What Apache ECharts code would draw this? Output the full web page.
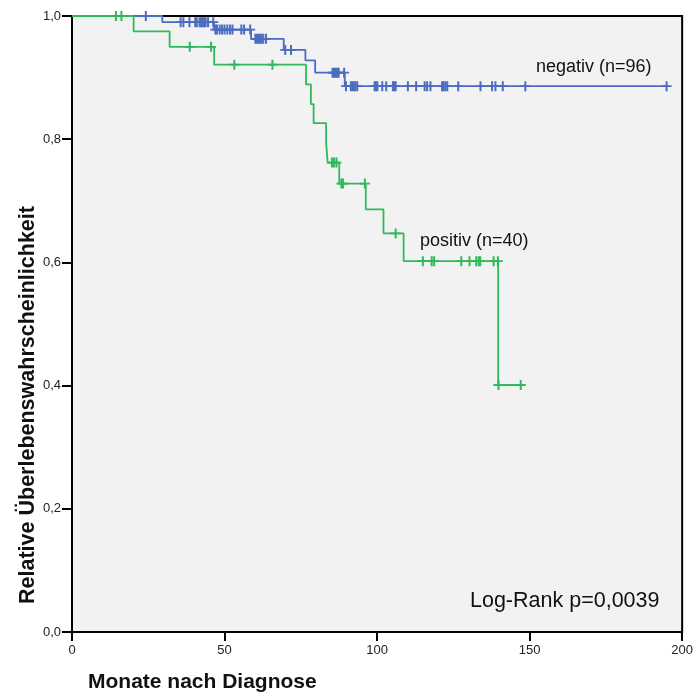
<!DOCTYPE html>
<html>
<head>
<meta charset="utf-8">
<script src="https://cdn.jsdelivr.net/npm/echarts@6/dist/echarts.min.js"></script>
<style>
  html, body { margin: 0; padding: 0; background: #ffffff; }
  #chart { width: 696px; height: 698px; }
</style>
</head>
<body>
<div id="chart"></div>
<script>
// Kaplan-Meier step curves: event times (months) and survival after each step
const posTimes = [0, 20.2, 32.0, 46.6, 76.7, 78.3, 79.2, 83.3, 83.8, 87.6, 96.3, 102.1, 108.7, 139.7, 147.1];
const posSurv  = [1.0, 0.975, 0.95, 0.921, 0.889, 0.857, 0.826, 0.794, 0.762, 0.728, 0.686, 0.647, 0.602, 0.401, 0.401];
const posCensored = [14.4, 16.2, 38.6, 45.6, 53.2, 65.7, 85.2, 85.9, 86.7, 88.3, 88.8, 96.0, 106.1,
  115.0, 117.9, 118.7, 127.6, 130.3, 132.5, 133.3, 133.8, 138.2, 139.6, 139.8, 147.1];

const negTimes = [0, 29.6, 46.6, 58.7, 69.4, 76.5, 79.7, 89.4, 194.9];
const negSurv  = [1.0, 0.990, 0.978, 0.963, 0.945, 0.928, 0.908, 0.886, 0.886];
const negCensored = [24.2,
  35.6, 36.5, 38.5, 40.4, 40.9, 41.8, 42.3, 42.8, 43.3, 43.8, 44.6, 46.3,
  47.0, 47.5, 48.4, 49.2, 50.0, 50.9, 51.8, 52.6, 55.5, 56.4, 58.4,
  60.1, 60.6, 61.1, 61.6, 62.1, 62.7, 63.6,
  69.9, 71.8,
  85.4, 85.9, 86.4, 86.9, 87.4, 89.2,
  89.8, 91.4, 91.9, 92.4, 92.9, 93.5, 99.2, 99.6, 100.1, 101.7, 103.0, 105.2, 105.6, 106.1,
  110.1, 112.8, 115.6, 116.4, 117.5, 121.3, 121.8, 122.4, 123.0, 126.6, 133.9, 137.7, 138.8,
  141.2, 148.6, 194.9];

const xTicks = [0, 50, 100, 150, 200];
const yTicks = [0, 0.2, 0.4, 0.6, 0.8, 1.0];

const groupNames = ['negativ (n=96)', 'positiv (n=40)'];
const testLabel = 'Log-Rank p=0,0039';
const xTitle = 'Monate nach Diagnose';
const yTitle = 'Relative Überlebenswahrscheinlichkeit';

const BLUE = '#4b6cc1';
const GREEN = '#2fb95a';
const FONT = '"Liberation Sans", Arial, sans-serif';

// survival value of a step curve at time t
function survAt(times, surv, t) {
  let v = surv[0];
  for (let i = 0; i < times.length; i++) {
    if (times[i] <= t) v = surv[i];
  }
  return v;
}
const pairs = (a, b) => a.map((t, i) => [t, b[i]]);
const censorPoints = (cens, times, surv) => cens.map(t => [t, survAt(times, surv, t)]);

// "+" censoring mark
const PLUS = 'path://M0,4.1H10V5.9H0Z M4,0H6V10H4Z';

const chart = echarts.init(document.getElementById('chart'), null, { renderer: 'canvas' });

chart.setOption({
  animation: false,
  backgroundColor: '#ffffff',
  grid: {
    left: 72, right: 13, top: 16, bottom: 66,
    show: true, backgroundColor: '#f2f2f2', borderColor: '#000', borderWidth: 2
  },
  xAxis: {
    type: 'value', min: 0, max: 200, interval: 50,
    axisLine: { show: true, onZero: false, lineStyle: { color: '#000', width: 2 } },
    axisTick: { show: true, length: 9, lineStyle: { color: '#000', width: 2 } },
    axisLabel: { margin: 12, fontSize: 13, color: '#222', fontFamily: FONT,
      formatter: v => xTicks.includes(v) ? String(v) : '' },
    splitLine: { show: false }
  },
  yAxis: {
    type: 'value', min: 0, max: 1, interval: 0.2,
    axisLine: { show: true, onZero: false, lineStyle: { color: '#000', width: 2 } },
    axisTick: { show: true, length: 10, lineStyle: { color: '#000', width: 2 } },
    axisLabel: { margin: 11, fontSize: 13, color: '#222', fontFamily: FONT,
      formatter: v => {
        const t = yTicks.find(y => Math.abs(y - v) < 1e-6);
        return t === undefined ? '' : t.toFixed(1).replace('.', ',');
      } },
    splitLine: { show: false }
  },
  series: [
    {
      name: groupNames[0], type: 'line', step: 'end', showSymbol: false,
      data: pairs(negTimes, negSurv),
      lineStyle: { color: BLUE, width: 1.8 }, itemStyle: { color: BLUE }, z: 3
    },
    {
      name: groupNames[0] + ' zensiert', type: 'scatter', symbol: PLUS, symbolSize: [10, 10],
      data: censorPoints(negCensored, negTimes, negSurv),
      itemStyle: { color: BLUE, opacity: 1 }, z: 4
    },
    {
      name: groupNames[1], type: 'line', step: 'end', showSymbol: false,
      data: pairs(posTimes, posSurv),
      lineStyle: { color: GREEN, width: 1.8 }, itemStyle: { color: GREEN }, z: 3
    },
    {
      name: groupNames[1] + ' zensiert', type: 'scatter', symbol: PLUS, symbolSize: [10, 10],
      data: censorPoints(posCensored, posTimes, posSurv),
      itemStyle: { color: GREEN, opacity: 1 }, z: 4
    }
  ],
  graphic: [
    { type: 'text', x: 536, y: 67, z: 10,
      style: { text: groupNames[0], fontSize: 18, fontFamily: FONT, fill: '#111', align: 'left', verticalAlign: 'middle' } },
    { type: 'text', x: 420, y: 241, z: 10,
      style: { text: groupNames[1], fontSize: 18, fontFamily: FONT, fill: '#111', align: 'left', verticalAlign: 'middle' } },
    { type: 'text', x: 470, y: 601, z: 10,
      style: { text: testLabel, fontSize: 21.5, fontFamily: FONT, fill: '#111', align: 'left', verticalAlign: 'middle' } },
    { type: 'text', x: 88, y: 682, z: 10,
      style: { text: xTitle, fontSize: 21, fontWeight: 'bold', fontFamily: FONT, fill: '#111', align: 'left', verticalAlign: 'middle' } },
    { type: 'text', x: 28, y: 405, rotation: Math.PI / 2, z: 10,
      style: { text: yTitle, fontSize: 21.5, fontWeight: 'bold', fontFamily: FONT, fill: '#111', align: 'center', verticalAlign: 'middle' } }
  ]
});
</script>
</body>
</html>
